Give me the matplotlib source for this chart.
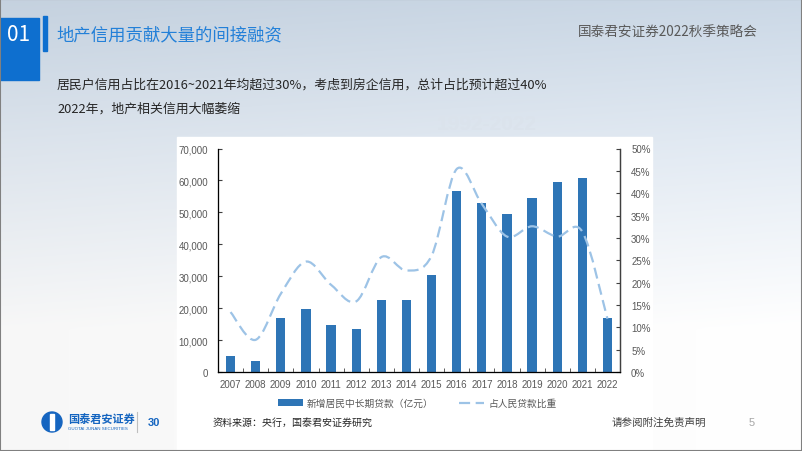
import numpy as np
import matplotlib
matplotlib.use('Agg')
import matplotlib.pyplot as plt
from matplotlib.patches import Rectangle, Ellipse, Patch, PathPatch
from matplotlib.lines import Line2D
from matplotlib.path import Path
from matplotlib.ticker import FuncFormatter, FixedLocator

# data
years = ['2007', '2008', '2009', '2010', '2011', '2012', '2013', '2014',
         '2015', '2016', '2017', '2018', '2019', '2020', '2021', '2022']
new_loans = [5000, 3400, 17000, 19800, 14700, 13400, 22700, 22500,
             30500, 56800, 53000, 49600, 54500, 59500, 60700, 17000]
loan_share = [13.4, 7.2, 17.5, 24.7, 19.5, 15.8, 25.7, 22.7,
              26.0, 45.4, 37.6, 30.3, 32.6, 30.3, 31.4, 11.9]

bar_label = '新增居民中长期贷款（亿元）'
line_label = '占人民贷款比重'
title = '地产信用贡献大量的间接融资'
header_right = '国泰君安证券2022秋季策略会'
note1 = '居民户信用占比在2016~2021年均超过30%，考虑到房企信用，总计占比预计超过40%'
note2 = '2022年，地产相关信用大幅萎缩'
source = '资料来源：央行，国泰君安证券研究'
disclaimer = '请参阅附注免责声明'

cjk = ['Noto Sans CJK SC', 'DejaVu Sans']
latin = ['Liberation Sans', 'DejaVu Sans']
plt.rcParams['font.family'] = cjk

W, H = 802, 452
fig = plt.figure(figsize=(W / 100, H / 100), dpi=100)


def fx(x):
    return x / W


def fy(y):
    return 1 - y / H


# background gradient
bg = fig.add_axes([0, 0, 1, 1], zorder=-2)
bg.axis('off')
rows = np.linspace(0, 1, 200)[:, None]
top = np.array([203, 216, 230]) / 255
mid = np.array([226, 234, 243]) / 255
white = np.array([1.0, 1.0, 1.0])
img = np.zeros((200, 300, 3))
for i, r in enumerate(rows[:, 0]):
    y = r * H
    if y < 140:
        c = top + (mid - top) * y / 140
    elif y < 330:
        c = mid + (white - mid) * (y - 140) / 190
    else:
        c = white
    img[i] = c
cols = np.linspace(0, 1, 300)
shade = 1 - 0.03 * (1 - cols)
img = np.clip(img * shade[None, :, None], 0, 1)
bg.imshow(img, extent=[0, 1, 0, 1], aspect='auto', transform=bg.transAxes)

# white chart card
fig.add_artist(Rectangle((fx(177), 0), fx(652) - fx(177), fy(138),
                         transform=fig.transFigure, color='white', zorder=-1))
fig.text(fx(487), fy(124), '1992-2022', color='#dbe3ec', fontsize=15,
         fontweight='bold', family=latin, ha='center', va='center', zorder=-1)

# header
fig.add_artist(Rectangle((0, fy(81)), fx(39), fy(19) - fy(81),
                         transform=fig.transFigure, color='#0e6fcf'))
fig.add_artist(Rectangle((fx(43), fy(52)), fx(4), fy(17) - fy(52),
                         transform=fig.transFigure, color='#0e6fcf'))
fig.text(fx(19), fy(35), '01', color='white', fontsize=15, ha='center', va='center')
fig.text(fx(56), fy(35), title, color='#2380d8', fontsize=12.5, va='center')
fig.text(fx(758), fy(33), header_right, color='#595959', fontsize=9.8,
         ha='right', va='center')
fig.text(fx(57), fy(85), note1, color='#262626', fontsize=9.3, va='center')
fig.text(fx(57), fy(109), note2, color='#262626', fontsize=9.3, va='center')

# chart
ax = fig.add_axes([fx(218), fy(373), fx(620) - fx(218), fy(149.5) - fy(373)])
ax.patch.set_alpha(0)
x = np.arange(len(years))
ax.bar(x, new_loans, width=0.37, color='#2e75b6', zorder=2)
ax.set_xlim(-0.5, len(years) - 0.5)
ax.set_ylim(0, 70000)
ax.set_yticks(np.arange(0, 70001, 10000))
ax.yaxis.set_major_formatter(FuncFormatter(lambda v, p: f'{int(v):,}'))
ax.set_xticks(x)
ax.set_xticklabels(years)
ax.xaxis.set_minor_locator(FixedLocator(np.arange(-0.5, len(years), 1)))
ax.tick_params(axis='x', which='major', length=0, pad=5)
ax.tick_params(axis='x', which='minor', direction='in', length=3, color='#404040')
ax.tick_params(axis='y', direction='in', length=3, color='#404040', pad=7)
ax.spines['top'].set_visible(False)
for s in ['left', 'right', 'bottom']:
    ax.spines[s].set_color('#404040')
    ax.spines[s].set_linewidth(0.9)

ax2 = ax.twinx()
ax2.set_ylim(0, 50)
ax2.set_yticks(np.arange(0, 51, 5))
ax2.yaxis.set_major_formatter(FuncFormatter(lambda v, p: f'{int(v)}%'))
ax2.tick_params(axis='y', direction='in', length=3, color='#404040', pad=8)
ax2.spines['top'].set_visible(False)
ax2.spines['right'].set_color('#404040')
ax2.spines['right'].set_linewidth(0.9)

for a in (ax, ax2):
    for lab in a.get_xticklabels() + a.get_yticklabels():
        lab.set_family(latin)
        lab.set_fontsize(7)
        lab.set_color('#595959')

# smoothed dashed line through the share points (Catmull-Rom as Bezier)
pts = np.column_stack([x, loan_share]).astype(float)
ext = np.vstack([pts[0], pts, pts[-1]])
verts = [tuple(pts[0])]
codes = [Path.MOVETO]
for i in range(1, len(ext) - 2):
    p0, p1, p2, p3 = ext[i - 1], ext[i], ext[i + 1], ext[i + 2]
    c1 = p1 + (p2 - p0) / 6
    c2 = p2 - (p3 - p1) / 6
    verts += [tuple(c1), tuple(c2), tuple(p2)]
    codes += [Path.CURVE4] * 3
curve = PathPatch(Path(verts, codes), fill=False, edgecolor='#9dc3e6',
                  lw=1.6, linestyle=(0, (5, 2.5)), zorder=3)
ax2.add_patch(curve)

handles = [Patch(facecolor='#2e75b6', edgecolor='none'),
           Line2D([0], [0], color='#9dc3e6', lw=1.6, linestyle=(0, (5, 2.5)))]
leg = fig.legend(handles, [bar_label, line_label], loc='center',
                 bbox_to_anchor=(fx(417), fy(404)), ncol=2, frameon=False,
                 fontsize=7, handlelength=2.6, handleheight=0.6,
                 columnspacing=2.6, handletextpad=0.4)
for t in leg.get_texts():
    t.set_color('#595959')

# footer
fig.add_artist(Ellipse((fx(52), fy(423)), fx(20), fy(413) - fy(433),
                       transform=fig.transFigure, color='#1565c0'))
fig.add_artist(Rectangle((fx(50), fy(431)), fx(4), fy(415) - fy(431),
                         transform=fig.transFigure, color='white'))
fig.text(fx(68), fy(419), '国泰君安证券', color='#1565c0', fontsize=8,
         fontweight='bold', va='center')
fig.text(fx(68), fy(429), 'GUOTAI JUNAN SECURITIES', color='#1565c0',
         fontsize=3.2, family=latin, va='center')
fig.add_artist(Line2D([fx(137), fx(137)], [fy(413), fy(433)],
                      transform=fig.transFigure, color='#bfbfbf', lw=0.8))
fig.text(fx(154), fy(423), '30', color='#1565c0', fontsize=8, fontweight='bold',
         family=latin, ha='center', va='center')
fig.text(fx(213), fy(423), source, color='#262626', fontsize=7.2, va='center')
fig.text(fx(612), fy(423), disclaimer, color='#404040', fontsize=7.6, va='center')
fig.text(fx(752), fy(423), '5', color='#a6a6a6', fontsize=8, family=latin,
         ha='center', va='center')

# slide frame
fig.add_artist(Rectangle((0, 0), 1, 1, transform=fig.transFigure, fill=False,
                         edgecolor='#808080', lw=1.5))

fig.savefig('out.png', dpi=100)
